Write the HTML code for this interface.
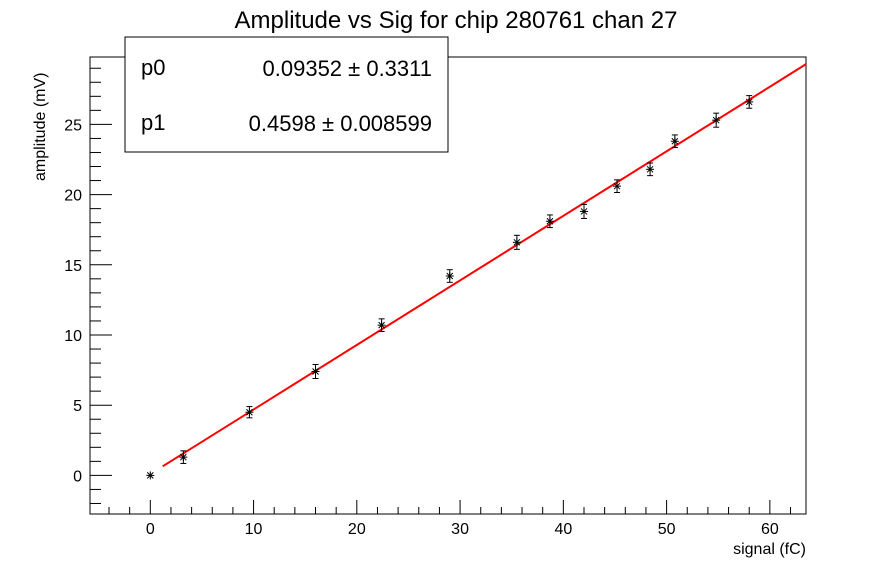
<!DOCTYPE html>
<html><head><meta charset="utf-8"><style>
body{margin:0;background:#fff;font-family:"Liberation Sans",sans-serif}
text{font-family:"Liberation Sans",sans-serif}
</style></head><body>
<svg id="c" width="896" height="572" viewBox="0 0 896 572">
<rect width="896" height="572" fill="#fff"/>
<text x="456" y="28" font-size="24" text-anchor="middle">Amplitude vs Sig for chip 280761 chan 27</text>
<rect x="90" y="57" width="716" height="457" fill="none" stroke="#000" stroke-width="1"/>
<g id="ticks"></g>
<g id="marks"></g>
<text x="806" y="554" font-size="16" text-anchor="end">signal (fC)</text>
<text transform="translate(45,181) rotate(-90)" font-size="16" text-anchor="start">amplitude (mV)</text>
<g>
<rect x="125" y="37" width="323" height="115" fill="#fff" stroke="#000"/>
<text x="141" y="75" font-size="22">p0</text>
<text x="432" y="76" font-size="22" text-anchor="end">0.09352 ± 0.3311</text>
<text x="141" y="130" font-size="22">p1</text>
<text x="432" y="131" font-size="22" text-anchor="end">0.4598 ± 0.008599</text>
</g>
</svg>
<script>
const xs=[0,3.2,9.6,16,22.4,29,35.5,38.7,42,45.2,48.4,50.8,54.8,58];
const ys=[0,1.3,4.5,7.4,10.7,14.2,16.6,18.1,18.8,20.6,21.8,23.8,25.3,26.6];
const errs=[0,0.45,0.4,0.5,0.45,0.45,0.5,0.45,0.5,0.45,0.45,0.45,0.5,0.45];
const fitP0=0.09352, fitP1=0.4598;
const xTicks=[0,10,20,30,40,50,60];
const yTicks=[0,5,10,15,20,25];
const X0=-5.84,X1=63.5,Y0=-2.75,Y1=29.8;
const L=90,R=806,T=57,B=514;
const sx=v=>L+(v-X0)/(X1-X0)*(R-L);
const sy=v=>B-(v-Y0)/(Y1-Y0)*(B-T);
const NS="http://www.w3.org/2000/svg";
function mk(t,a,p){const e=document.createElementNS(NS,t);for(const k in a)e.setAttribute(k,a[k]);p.appendChild(e);return e;}
const tg=document.getElementById('ticks'),mg=document.getElementById('marks');
for(let v=-4;v<=63;v+=2){const x=sx(v);const maj=v%10===0;
 const l=mk('line',{x1:x,x2:x,y1:B,y2:B-(maj?14:7),stroke:'#000'},tg);
 
 }
for(let v=-2;v<=29;v++){const y=sy(v);const maj=v%5===0;
 const l=mk('line',{x1:L,x2:L+(maj?22:11),y1:y,y2:y,stroke:'#000'},tg);
 
 }
xTicks.forEach(v=>{const t=mk('text',{x:sx(v),y:B+20,'font-size':16,'text-anchor':'middle'},tg);t.textContent=v;
 
 });
yTicks.forEach(v=>{const t=mk('text',{x:L-8,y:sy(v)+6,'font-size':16,'text-anchor':'end'},tg);t.textContent=v;
 
 });
const fx0=1.2,fx1=X1;
const fl=mk('line',{x1:sx(fx0),y1:sy(fitP0+fitP1*fx0),x2:sx(fx1),y2:sy(fitP0+fitP1*fx1),stroke:'#f00','stroke-width':2},mg);


xs.forEach((xv,i)=>{const x=sx(xv),y=sy(ys[i]);
 const g=mk('g',{stroke:'#000','stroke-width':1},mg);
 
 
 if(errs[i]>0){const y1=sy(ys[i]+errs[i]),y2=sy(ys[i]-errs[i]);
  mk('line',{x1:x,x2:x,y1:y1,y2:y2},g);
  mk('line',{x1:x-3,x2:x+3,y1:y1,y2:y1},g);
  mk('line',{x1:x-3,x2:x+3,y1:y2,y2:y2},g);}
 mk('line',{x1:x-4,x2:x+4,y1:y,y2:y},g);
 mk('line',{x1:x,x2:x,y1:y-4,y2:y+4},g);
 mk('line',{x1:x-3,x2:x+3,y1:y-3,y2:y+3},g);
 mk('line',{x1:x-3,x2:x+3,y1:y+3,y2:y-3},g);
});
</script>
</body></html>
